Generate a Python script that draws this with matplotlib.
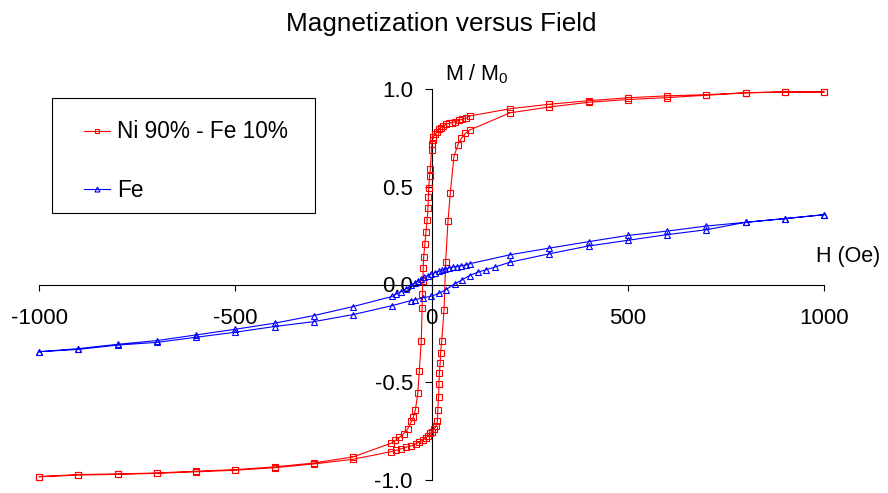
import matplotlib
matplotlib.use("Agg")
import matplotlib.pyplot as plt
import numpy as np
from matplotlib.patches import Rectangle
from matplotlib.ticker import FormatStrFormatter

plt.rcParams['font.family'] = 'Liberation Sans'
plt.rcParams['axes.unicode_minus'] = False
plt.rcParams['mathtext.default'] = 'regular'

# Ni 90% - Fe 10%: field sweep from +1000 Oe down to -1000 Oe
ni_h_down = [1000, 900, 800, 700, 600, 500, 400, 300, 200, 97, 88, 78, 70, 61, 52,
             44, 36, 29, 23, 18, 14, 9, 5, 3, 1, 0, -3, -5, -7, -8, -9, -11, -14,
             -17, -20, -21, -22, -23, -24, -26, -31, -35, -41, -46, -51, -61, -71,
             -82, -92, -103, -200, -300, -400, -500, -600, -700, -800, -900, -1000]
ni_m_down = [0.985, 0.985, 0.981, 0.971, 0.965, 0.955, 0.940, 0.922, 0.899, 0.862,
             0.850, 0.845, 0.841, 0.833, 0.828, 0.824, 0.819, 0.810, 0.803, 0.793,
             0.780, 0.770, 0.755, 0.740, 0.720, 0.690, 0.590, 0.555, 0.495, 0.448,
             0.390, 0.330, 0.270, 0.205, 0.140, 0.085, 0.020, -0.050, -0.120,
             -0.290, -0.440, -0.557, -0.640, -0.677, -0.700, -0.740, -0.763,
             -0.782, -0.797, -0.812, -0.882, -0.913, -0.933, -0.947, -0.955,
             -0.964, -0.969, -0.972, -0.983]

# Ni 90% - Fe 10%: return sweep from -1000 Oe up to +1000 Oe
ni_h_up = [-1000, -900, -800, -700, -600, -500, -400, -300, -200, -103, -90, -77,
           -65, -52, -39, -31, -22, -15, -9, -3, 2, 7, 12, 15, 16, 18, 19, 20, 22,
           23, 26, 32, 36, 42, 48, 57, 67, 76, 86, 97, 200, 300, 400, 500, 600,
           700, 800, 900, 1000]
ni_m_up = [-0.983, -0.975, -0.971, -0.966, -0.958, -0.950, -0.937, -0.918, -0.894,
           -0.855, -0.848, -0.840, -0.832, -0.826, -0.814, -0.805, -0.797, -0.786,
           -0.774, -0.762, -0.752, -0.740, -0.723, -0.700, -0.643, -0.574, -0.510,
           -0.455, -0.404, -0.352, -0.290, -0.130, 0.114, 0.325, 0.470, 0.653,
           0.713, 0.747, 0.773, 0.790, 0.878, 0.908, 0.932, 0.946, 0.956, 0.968,
           0.980, 0.985, 0.985]

# Fe: sweep down
fe_h_down = [1000, 900, 800, 700, 600, 500, 400, 300, 200, 97, 87, 76, 65, 54, 44,
             35, 26, 18, 8, -1, -9, -18, -26, -35, -43, -52, -65, -77, -90, -100,
             -200, -300, -400, -500, -600, -700, -800, -900, -1000]
fe_m_down = [0.357, 0.337, 0.318, 0.299, 0.273, 0.251, 0.219, 0.186, 0.152, 0.106,
             0.100, 0.096, 0.092, 0.089, 0.084, 0.079, 0.072, 0.067, 0.060, 0.053,
             0.046, 0.038, 0.027, 0.017, 0.007, -0.005, -0.022, -0.036, -0.048,
             -0.061, -0.113, -0.159, -0.198, -0.229, -0.258, -0.287, -0.306,
             -0.328, -0.344]

# Fe: sweep up
fe_h_up = [-1000, -900, -800, -700, -600, -500, -400, -300, -200, -100, -52, -43,
           -22, -1, 19, 37, 59, 78, 97, 118, 138, 161, 200, 300, 400, 500, 600,
           700, 800, 900, 1000]
fe_m_up = [-0.344, -0.332, -0.310, -0.296, -0.270, -0.244, -0.215, -0.190, -0.154,
           -0.108, -0.082, -0.079, -0.068, -0.060, -0.045, -0.026, 0.003, 0.024,
           0.046, 0.063, 0.075, 0.089, 0.114, 0.157, 0.197, 0.226, 0.255, 0.280,
           0.318, 0.337, 0.357]

x_ticks = [-1000, -500, 0, 500, 1000]
y_ticks = [-1.0, -0.5, 0.0, 0.5, 1.0]

W, H = 888, 493
fig = plt.figure(figsize=(W / 100, H / 100), dpi=100)
ax = fig.add_axes([39 / W, 1 - 480 / H, (824 - 39) / W, (480 - 89) / H])

# curves sit above the crossing axes
ax.plot(np.concatenate([ni_h_down, ni_h_up]), np.concatenate([ni_m_down, ni_m_up]),
        color='#ff0000', lw=0.8, marker='s', ms=4.2, mfc='none', mec='#ff0000',
        mew=0.8, clip_on=False, zorder=3, label='Ni 90% - Fe 10%')
ax.plot(np.concatenate([fe_h_down, fe_h_up]), np.concatenate([fe_m_down, fe_m_up]),
        color='#0000ff', lw=0.8, marker='^', ms=4.8, mfc='none', mec='#0000ff',
        mew=0.8, clip_on=False, zorder=3, label='Fe')

ax.set_xlim(-1000, 1000)
ax.set_ylim(-1, 1)
ax.set_xticks(x_ticks)
ax.set_yticks(y_ticks)
ax.yaxis.set_major_formatter(FormatStrFormatter('%.1f'))

# axes cross at the origin
for side in ['top', 'right']:
    ax.spines[side].set_visible(False)
ax.spines['left'].set_position(('data', 0))
ax.spines['bottom'].set_position(('data', 0))
for side in ['left', 'bottom']:
    ax.spines[side].set_linewidth(0.8)
ax.tick_params(axis='x', direction='out', length=4.5, width=0.8, pad=12.5,
               labelsize=16)
ax.tick_params(axis='y', direction='out', length=5, width=0.8, pad=8.5,
               labelsize=16)
ax.patch.set_visible(False)

fig.text(441 / W, 1 - 31.5 / H, 'Magnetization versus Field', ha='center',
         va='baseline', fontsize=18.8)
fig.text(445 / W, 1 - 80 / H, 'M / M$_0$', ha='left', va='baseline', fontsize=15.5)
fig.text(816 / W, 1 - 262 / H, 'H (Oe)', ha='left', va='baseline', fontsize=15.5)

# legend entries without frame, box drawn separately
ax.legend(loc='upper left', bbox_to_anchor=(84 / W, 1 - 120.5 / H),
          bbox_transform=fig.transFigure, frameon=False, borderpad=0,
          borderaxespad=0, fontsize=16.3, handlelength=1.15, handletextpad=0.31,
          labelspacing=1.55, markerscale=0.75)
fig.add_artist(Rectangle((52 / W, 1 - 213 / H), 263 / W, 115 / H,
                         transform=fig.transFigure, fill=False, edgecolor='black',
                         lw=0.8))

fig.savefig('out.png', dpi=100)
